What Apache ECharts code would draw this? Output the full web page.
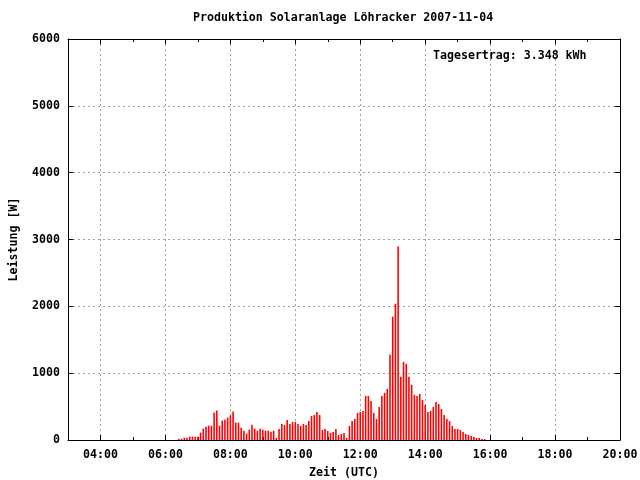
<!DOCTYPE html>
<html>
<head>
<meta charset="utf-8">
<script src="https://cdn.jsdelivr.net/npm/echarts@6/dist/echarts.min.js"></script>
<style>
html,body{margin:0;padding:0;background:#fff;}
#chart{width:640px;height:480px;}
</style>
</head>
<body>
<div id="chart"></div>
<script>
const titleText = 'Produktion Solaranlage Löhracker 2007-11-04';
const yieldText = 'Tagesertrag: 3.348 kWh';
const xAxisName = 'Zeit (UTC)';
const yAxisName = 'Leistung [W]';
const hourLabels = ['03:00','04:00','05:00','06:00','07:00','08:00','09:00','10:00','11:00','12:00',
  '13:00','14:00','15:00','16:00','17:00','18:00','19:00','20:00'];
const times = [
  '06:25','06:30','06:35','06:40','06:45','06:50','06:55',
  '07:00','07:05','07:10','07:15','07:20','07:25','07:30','07:35','07:40','07:45','07:50','07:55',
  '08:00','08:05','08:10','08:15','08:20','08:25','08:30','08:35','08:40','08:45','08:50','08:55',
  '09:00','09:05','09:10','09:15','09:20','09:25','09:30','09:35','09:40','09:45','09:50','09:55',
  '10:00','10:05','10:10','10:15','10:20','10:25','10:30','10:35','10:40','10:45','10:50','10:55',
  '11:00','11:05','11:10','11:15','11:20','11:25','11:30','11:35','11:40','11:45','11:50','11:55',
  '12:00','12:05','12:10','12:15','12:20','12:25','12:30','12:35','12:40','12:45','12:50','12:55',
  '13:00','13:05','13:10','13:15','13:20','13:25','13:30','13:35','13:40','13:45','13:50','13:55',
  '14:00','14:05','14:10','14:15','14:20','14:25','14:30','14:35','14:40','14:45','14:50','14:55',
  '15:00','15:05','15:10','15:15','15:20','15:25','15:30','15:35','15:40','15:45','15:50'
];
const power = [
  20,20,35,35,50,50,50,
  50,110,170,200,215,215,410,440,215,290,305,335,
  365,425,260,260,185,140,95,155,230,170,140,170,
  155,140,140,125,140,30,165,240,225,300,240,270,
  270,240,210,240,225,285,360,375,420,375,150,165,
  135,105,120,165,75,90,105,30,210,285,315,405,
  420,435,660,660,585,405,315,495,660,705,765,1275,
  1845,2040,2895,945,1170,1140,945,825,675,660,690,600,
  525,420,435,495,570,540,465,375,315,285,210,165,
  165,150,120,90,75,60,45,30,30,15,15
];

function toHours(s){ const p = s.split(':'); return +p[0] + (+p[1])/60; }
const seriesData = times.map((t,i)=>[toHours(t), power[i]]);
const FONT = 'DejaVu Sans Mono';
const txt = {fontFamily: FONT, fontWeight: 'bold', fontSize: 11.6, color: '#000'};
const major = (idx) => idx % 2 === 1;
const majorGrid = (idx) => idx % 2 === 1 && idx < hourLabels.length - 1;
const gridLine = {show: true, lineStyle: {color: '#a0a0a0', width: 1, type: [2, 3]}};

const chart = echarts.init(document.getElementById('chart'), null, {renderer: 'canvas'});
chart.setOption({
  animation: false,
  backgroundColor: '#fff',
  title: [
    {text: titleText, left: 193, top: 12, padding: 0, textStyle: txt},
    {text: yieldText, left: 433, top: 50, padding: 0, textStyle: txt}
  ],
  grid: {left: 68, top: 39, width: 552, height: 401, show: false, containLabel: false, outerBoundsMode: 'none'},
  xAxis: [
    {type: 'value', min: 3, max: 20, show: false},
    {type: 'category', data: hourLabels, boundaryGap: false, position: 'bottom', offset: 0,
     name: xAxisName, nameLocation: 'middle', nameGap: 27, nameTextStyle: txt,
     axisLine: {show: true, lineStyle: {color: '#000', width: 1}},
     axisTick: {show: true, inside: true, length: 5, interval: major, lineStyle: {color: '#000'}},
     axisLabel: {show: true, interval: major, margin: 9, ...txt},
     splitLine: {...gridLine, interval: majorGrid}},
    {type: 'category', data: hourLabels, boundaryGap: false, position: 'bottom', offset: 0,
     axisLine: {show: false},
     axisTick: {show: true, inside: true, length: 3, interval: 0, lineStyle: {color: '#000'}},
     axisLabel: {show: false}, splitLine: {show: false}},
    {type: 'category', data: hourLabels, boundaryGap: false, position: 'top', offset: 0,
     axisLine: {show: true, lineStyle: {color: '#000', width: 1}},
     axisTick: {show: true, inside: true, length: 5, interval: major, lineStyle: {color: '#000'}},
     axisLabel: {show: false}, splitLine: {show: false}},
    {type: 'category', data: hourLabels, boundaryGap: false, position: 'top', offset: 0,
     axisLine: {show: false},
     axisTick: {show: true, inside: true, length: 3, interval: 0, lineStyle: {color: '#000'}},
     axisLabel: {show: false}, splitLine: {show: false}}
  ],
  yAxis: [
    {type: 'value', min: 0, max: 6000, interval: 1000, position: 'left',
     name: yAxisName, nameLocation: 'middle', nameGap: 48, nameRotate: 90, nameTextStyle: txt,
     axisLine: {show: true, lineStyle: {color: '#000', width: 1}},
     axisTick: {show: true, inside: true, length: 5, lineStyle: {color: '#000'}},
     axisLabel: {show: true, margin: 8, formatter: (v) => String(v), ...txt},
     splitLine: {...gridLine, showMinLine: false, showMaxLine: false}},
    {type: 'value', min: 0, max: 6000, interval: 1000, position: 'right',
     axisLine: {show: true, lineStyle: {color: '#000', width: 1}},
     axisTick: {show: true, inside: true, length: 5, lineStyle: {color: '#000'}},
     axisLabel: {show: false}, splitLine: {show: false}}
  ],
  series: [{
    type: 'bar', xAxisIndex: 0, yAxisIndex: 0,
    data: seriesData, barWidth: 1.6,
    itemStyle: {color: '#ff0000'},
    z: 5
  }]
});
</script>
</body>
</html>
